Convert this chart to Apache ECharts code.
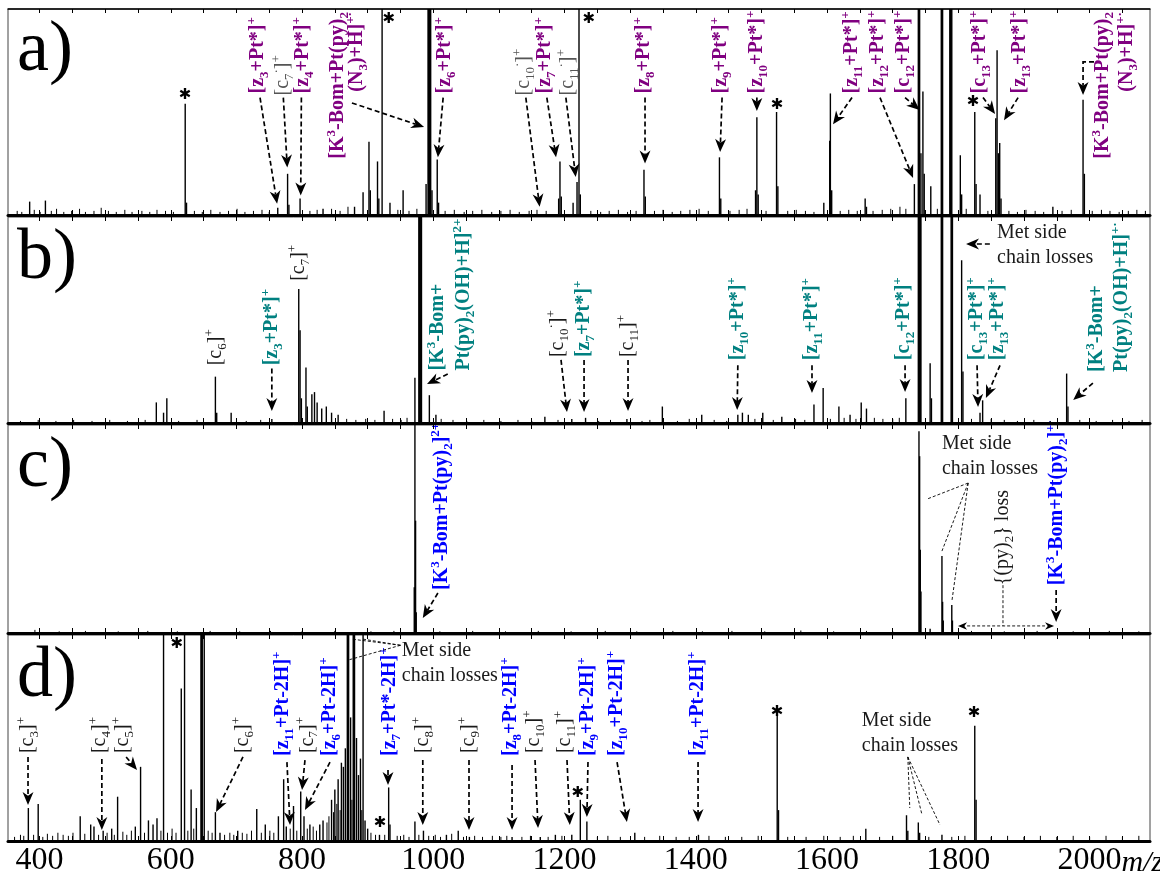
<!DOCTYPE html>
<html>
<head>
<meta charset="utf-8">
<script src="https://cdn.jsdelivr.net/npm/echarts@6/dist/echarts.min.js"></script>
<style>
  html, body { margin: 0; padding: 0; background: #fff; }
  #chart { width: 1160px; height: 877px; }
</style>
</head>
<body>
<div id="chart"></div>
<script>
// ---- axis ----
const mzRange = [352, 2092];
const mzTicks = [400, 450, 500, 550, 600, 650, 700, 750, 800, 850, 900, 950, 1000, 1050, 1100, 1150,
  1200, 1250, 1300, 1350, 1400, 1450, 1500, 1550, 1600, 1650, 1700, 1750, 1800, 1850, 1900, 1950, 2000, 2050];
const mzTickLabels = [400, 600, 800, 1000, 1200, 1400, 1600, 1800, 2000];

// ---- spectra: [m/z, relative intensity %] (values above 100 run off the panel) ----
const peaksA = [[385,6.5],[409,7],[622,54],[624,6],[763,3.5],[778,20],[780,5],[797,8],[832,3],[880,4],[893,11],
  [902,35.5],[904,12],[915,26],[917,8],[922,130],[934,6],[954,12],[989,15],[992,130],[993,130],[994,130],[995,130],
  [996,130],[998,12],[1006,27],[1008,6],[1191,8],[1193,26],[1195,9],[1213,6],[1219,16],[1222,130],[1224,10],
  [1321,22],[1323,9],[1436,28],[1438,8],[1491,12],[1493,47.5],[1495,10],[1523,50],[1525,14],[1595,6],[1604,36],
  [1605,59],[1607,12],[1658,8],[1660,4],[1733,15],[1739,130],[1740,130],[1741,130],[1743,30],[1746,60],[1748,20],
  [1758,14],[1774,130],[1775,130],[1776,130],[1787,130],[1788,130],[1789,130],[1790,130],[1803,29],[1805,10],
  [1825,50],[1827,15],[1833,10],[1857,47],[1859,80],[1861,30],[1863,35],[1865,8],[1944,4],[1990,56],[1992,20]];
const noiseA = [[366,2],[373,1.5],[392,2.5],[401,1.5],[418,2],[426,3],[437,1.5],[449,2],[461,3],[470,1.5],[483,2],
  [494,3.5],[505,2],[517,1.5],[530,2.5],[541,1.5],[556,2],[568,1.5],[579,2.5],[592,2],[604,1.5],[636,2],[648,1.5],
  [661,2.5],[675,1.5],[688,2],[701,3],[713,1.5],[726,2],[739,2.5],[750,1.5],[812,2],[823,2.5],[845,3],[858,2],
  [870,4],[946,2.5],[963,2],[975,3],[1018,2],[1032,2.5],[1047,1.5],[1060,2],[1074,2.5],[1089,1.5],[1103,2],
  [1117,2.5],[1131,1.5],[1146,2],[1158,2.5],[1172,2],[1240,2],[1255,1.5],[1268,2],[1282,2.5],[1296,1.5],[1309,2],
  [1337,2],[1350,2.5],[1364,1.5],[1377,2],[1391,2.5],[1405,3],[1419,2],[1452,2],[1466,2.5],[1478,3],[1507,2],
  [1540,2],[1553,2.5],[1567,2],[1580,1.5],[1620,2],[1633,2.5],[1646,2],[1670,2],[1684,2.5],[1697,3],[1711,4],
  [1720,3],[1768,3],[1812,3],[1845,2],[1877,2],[1890,1.5],[1903,2.5],[1917,2],[1930,1.5],[1958,2],[1972,2.5],
  [2004,2],[2018,2.5],[2031,2],[2045,1.5],[2059,2],[2072,2.5],[2085,2]];

const peaksB = [[578,10],[589,5],[594,12],[668,22.5],[670,5],[692,5],[754,2],[795,65],[797,45],[799,12],[806,27],
  [808,8],[815,14],[819,15],[823,10],[830,7],[837,8],[845,5],[855,4],[925,6],[972,22],[978,130],[979,130],[980,130],
  [981,130],[982,130],[994,13.5],[1004,4],[1170,3],[1211,2],[1232,2.5],[1295,2],[1349,8],[1409,4],[1464,4],[1471,5],
  [1480,4],[1502,5],[1531,3],[1580,9],[1594,17],[1618,8],[1635,4],[1652,10],[1660,7],[1720,12],[1739,130],
  [1740,130],[1741,130],[1742,130],[1743,130],[1757,29],[1759,12],[1774,130],[1775,130],[1776,130],[1789,130],
  [1790,130],[1791,130],[1805,79],[1807,25],[1833,5],[1837,11],[1965,24],[1967,8]];
const noiseB = [[371,1],[398,1.5],[425,1],[452,1.5],[480,1],[507,1.5],[534,1],[561,1.5],[612,1],[640,1.5],[715,1],
  [737,1.5],[868,2],[882,1.5],[897,2],[911,1.5],[938,2],[951,1.5],[960,2.5],[1012,2],[1030,1.5],[1051,1],[1077,1.5],
  [1103,1],[1129,1.5],[1150,1],[1190,1.5],[1252,1],[1270,1.5],[1318,1],[1330,1.5],[1372,1],[1390,2],[1428,1.5],
  [1447,1],[1490,2],[1518,1.5],[1552,2],[1566,1.5],[1605,2],[1626,2.5],[1644,2],[1672,2.5],[1685,2],[1700,2],
  [1710,2.5],[1820,2],[1850,2],[1870,1.5],[1890,1],[1915,1.5],[1940,1],[1985,1.5],[2010,1],[2035,1.5],[2060,1],[2080,1.5]];

const peaksC = [[971,22],[972,130],[973,54],[974,10],[1740,97],[1741,85],[1742,40],[1743,20],[1757,2],[1775,37],
  [1776,15],[1777,6],[1790,13.5],[1791,6]];
const noiseC = [[393,1.5],[430,0.8],[470,1],[520,0.8],[565,1],[610,0.8],[660,1],[705,0.8],[752,1],[800,0.8],
  [850,1],[905,0.8],[940,1],[1010,0.8],[1060,1],[1110,0.8],[1160,1],[1210,0.8],[1262,1],[1310,0.8],[1365,1],
  [1410,0.8],[1455,1],[1505,0.8],[1560,1.2],[1610,0.8],[1660,1],[1700,0.8],[1820,1],[1870,0.8],[1920,1],[1975,0.8],
  [2030,1],[2075,0.8]];

const peaksD = [[383,16],[398,18],[462,12],[478,8],[483,7],[497,5],[510,6],[519,21.5],[546,7],[554,36],[566,10],
  [573,8],[579,11],[589,130],[616,74],[621,130],[631,25],[639,16],[646,130],[647,130],[648,130],[651,130],[668,14],
  [675,4],[702,5],[731,15.5],[744,8],[764,12],[772,30],[776,7],[787,17],[798,24],[803,12],[812,8],[827,8],[832,10],
  [845,20],[850,25],[855,30],[860,38],[863,36],[866,45],[869,130],[870,130],[871,130],[874,60],[878,130],[879,130],
  [880,130],[883,50],[886,32],[889,40],[893,130],[896,10],[900,6],[918,3],[932,26],[934,8],[972,9.5],[985,5],
  [1020,3],[1038,5],[1055,2],[1120,2],[1163,2],[1186,3],[1211,3],[1224,20],[1234,9.5],[1307,4],[1404,3],[1524,61],
  [1526,15],[1659,6],[1721,12.5],[1723,5],[1739,9],[1741,4],[1775,3],[1825,56],[1827,20]];
const noiseD = [[362,2],[371,3],[376,2.5],[391,3],[405,2],[412,3.5],[420,2.5],[428,4],[436,3],[444,2.5],[451,4],
  [469,3.5],[490,3],[503,4],[514,3],[527,4.5],[533,3],[540,5],[560,4],[585,5],[595,4],[602,6],[608,4],[626,5],
  [635,6],[657,5],[663,4],[682,3],[690,4],[696,3],[709,4],[716,3.5],[723,5],[738,4],[751,5],[757,4],[782,6],
  [792,5],[808,6],[817,7],[822,5],[838,9],[841,12],[848,14],[853,18],[858,15],[876,20],[891,15],[905,4],[912,3],
  [926,3],[945,2.5],[955,3],[963,2],[978,3],[993,2.5],[1003,3],[1011,2],[1028,3.5],[1046,2],[1063,2.5],[1075,2],
  [1090,2.5],[1103,2],[1112,2.5],[1135,2],[1148,2.5],[1175,2],[1196,2.5],[1250,2],[1266,2.5],[1285,2],[1322,2],
  [1345,2.5],[1370,2],[1390,2],[1420,2.5],[1445,2],[1470,2],[1495,2.5],[1540,2],[1568,2],[1595,2.5],[1620,2],
  [1640,2.5],[1680,2],[1700,2.5],[1755,2],[1790,2],[1810,2.5],[1850,2],[1875,2.5],[1900,2],[1925,2.5],[1950,2],
  [1975,2.5],[2000,2],[2025,2.5],[2050,2],[2075,2.5]];

// ---- annotations ----
// labels: [markup, m/z of text column, intensity of text start, colour key, anchor ('s' start / 'e' end)]
// markup: _x or _{xx} subscript, ^x or ^{xx} superscript
const labelsA = [
  ['[z_3+Pt*]^+', 733, 59, 'P', 's'], ['[c_7^·]^+', 771, 58, 'G', 's'], ['[z_4+Pt*]^+', 801, 59, 'P', 's'],
  ['[K^3-Bom+Pt(py)_2', 855, 98.5, 'P', 'e'], ['(N_3)+H]^{+·}', 884, 98.5, 'P', 'e'],
  ['[z_6+Pt*]^+', 1018, 59, 'P', 's'], ['[c_{10}^·]^+', 1138, 58, 'G', 's'], ['[z_7+Pt*]^+', 1170, 59, 'P', 's'],
  ['[c_{11}^·]^+', 1205, 58, 'G', 's'], ['[z_8+Pt*]^+', 1321, 59, 'P', 's'], ['[z_9+Pt*]^+', 1438, 59, 'P', 's'],
  ['[z_{10}+Pt*]^+', 1493, 59, 'P', 's'], ['[z_{11}+Pt*]^+', 1638, 59, 'P', 's'], ['[z_{12}+Pt*]^+', 1678, 59, 'P', 's'],
  ['[c_{12}+Pt*]^+', 1717, 59, 'P', 's'], ['[c_{13}+Pt*]^+', 1833, 59, 'P', 's'], ['[z_{13}+Pt*]^+', 1894, 59, 'P', 's'],
  ['[K^3-Bom+Pt(py)_2', 2020, 98.5, 'P', 'e'], ['(N_3)+H]^{+·}', 2057, 98.5, 'P', 'e']
];
const labelsB = [
  ['[c_6]^+', 669, 28, 'K', 's'], ['[z_3+Pt*]^+', 754, 28, 'T', 's'], ['[c_7]^+', 795, 69, 'K', 's'],
  ['[K^3-Bom+', 1007, 25.5, 'T', 's'], ['Pt(py)_2(OH)+H]^{2+}', 1047, 25.5, 'T', 's'],
  ['[c_{10}^·]^+', 1190, 32, 'K', 's'], ['[z_7+Pt*]^+', 1230, 32, 'T', 's'], ['[c_{11}]^+', 1297, 32, 'K', 's'],
  ['[z_{10}+Pt*]^+', 1464, 30.5, 'T', 's'], ['[z_{11}+Pt*]^+', 1577, 30.5, 'T', 's'], ['[c_{12}+Pt*]^+', 1717, 30.5, 'T', 's'],
  ['[c_{13}+Pt*]^+', 1828, 30.5, 'T', 's'], ['[z_{13}+Pt*]^+', 1860, 30.5, 'T', 's'],
  ['[K^3-Bom+', 2011, 24.8, 'T', 's'], ['Pt(py)_2(OH)+H]^{+·}', 2049, 24.8, 'T', 's']
];
const labelsC = [
  ['[K^3-Bom+Pt(py)_2]^{2+}', 1013, 20.7, 'B', 's'], ['{(py)_2} loss', 1868, 23, 'K', 's'],
  ['[K^3-Bom+Pt(py)_2]^{+·}', 1950, 23, 'B', 's']
];
const labelsD = [
  ['[c_3]^+', 382, 42.7, 'K', 's'], ['[c_4]^+', 492, 42.7, 'K', 's'], ['[c_5]^+', 527, 42.7, 'K', 's'],
  ['[c_6]^+', 710, 42.7, 'K', 's'], ['[z_{11}+Pt-2H]^+', 771, 41.3, 'B', 's'], ['[c_7]^+', 808, 42.7, 'K', 's'],
  ['[z_6+Pt-2H]^+', 843, 41.3, 'B', 's'], ['[z_7+Pt*-2H]^+', 934, 41.3, 'B', 's'], ['[c_8]^+', 984, 42.7, 'K', 's'],
  ['[c_9]^+', 1054, 42.7, 'K', 's'], ['[z_8+Pt-2H]^+', 1118, 41.3, 'B', 's'], ['[c_{10}]^+', 1153, 42.7, 'K', 's'],
  ['[c_{11}]^+', 1201, 42.7, 'K', 's'], ['[z_9+Pt-2H]^+', 1236, 41.3, 'B', 's'], ['[z_{10}+Pt-2H]^+', 1280, 41.3, 'B', 's'],
  ['[z_{11}+Pt-2H]^+', 1403, 41.3, 'B', 's']
];

// horizontal notes: [text, m/z of left edge, intensity of first line]
const notesB = [['Met side\nchain losses', 1859, 92.7]];
const notesC = [['Met side\nchain losses', 1775, 91.3]];
const notesD = [['Met side\nchain losses', 952, 92.7], ['Met side\nchain losses', 1653, 58.7]];

// dashed arrows: [points [[m/z, I], ...], heads ('e' end, 'b' both, '' none), thin]
const arrowsA = [
  [[[736,57],[762,5.5]],'e'], [[[771.5,57],[777.5,23]],'e'], [[[799,57],[798,9.5]],'e'],
  [[[876,54.4],[986,42.7]],'e'], [[[1015,57],[1007,28]],'e'], [[[1141,57],[1162,4]],'e'],
  [[[1173,57],[1187,28]],'e'], [[[1202,57],[1217,18.5]],'e'], [[[1322.6,57],[1322.6,25]],'e'],
  [[[1440,57],[1437,30.6]],'e'], [[[1493,57],[1493,50.5]],'e'], [[[1638,57],[1609,44]],'e'],
  [[[1680.6,57],[1731,18]],'e'], [[[1718.8,57],[1741,51]],'e'], [[[1837.6,57],[1856,49]],'e'],
  [[[1891,57],[1869.6,46]],'e'], [[[2006.7,74.3],[1990,74.3],[1990,58.3]],'e']
];
const arrowsB = [
  [[[754,26.5],[754,5.8]],'e'], [[[1022,23.8],[990.4,18.9]],'e'], [[[1194.6,30.6],[1203.7,5.3]],'e'],
  [[[1229.7,30.6],[1229.7,5.3]],'e'], [[[1296.7,30.6],[1296.7,5.8]],'e'], [[[1464,28],[1463,6.3]],'e'],
  [[[1577,28],[1577,14.6]],'e'], [[[1718.8,28],[1718.8,15]],'e'], [[[1828.5,28],[1830,7.8]],'e'],
  [[[1863.5,28],[1842,12.1]],'e'], [[[2005,19.4],[1975,11.2]],'e'], [[[1848,86.9],[1811.7,86.9]],'e']
];
const arrowsC = [
  [[[1007,19.2],[984,7.2]],'e'],
  [[[1815,72.1],[1752.3,64.4]],'',1], [[[1815,72.1],[1775,39.4]],'',1], [[[1815,72.1],[1790.4,15.9]],'',1],
  [[[1868,23],[1868,3.4]],'',1], [[[1799.5,3.4],[1945.8,3.4]],'b',1], [[[1949,20.7],[1949,5.3]],'e']
];
const arrowsD = [
  [[[382.5,40.8],[382.5,17.5]],'e'], [[[495,39.8],[495,5.3]],'e'], [[[532,40.8],[548.6,34.5]],'e'],
  [[[710,40.8],[669,14.1]],'e'], [[[777,38.3],[781.7,7.8]],'e'], [[[804.5,39.3],[800,24.8]],'e'],
  [[[842.6,38.3],[804.5,15]],'e'], [[[931,34.5],[931,27.2]],'e'], [[[984,39.3],[984,7.8]],'e'],
  [[[1054.4,39.3],[1054.4,5.3]],'e'], [[[1120,36.9],[1120,5.3]],'e'], [[[1155,39.3],[1159.6,6.3]],'e'],
  [[[1203.7,39.3],[1208,7.8]],'e'], [[[1235.7,38.3],[1234,11.7]],'e'], [[[1280,38.3],[1295,9.2]],'e'],
  [[[1403.4,38.3],[1403.4,9.2]],'e'],
  [[[950,95],[876,98]],'',1], [[[950,95],[872,88]],'',1], [[[950,95],[893,98]],'',1],
  [[[1723,40.8],[1726,16]],'',1], [[[1723,40.8],[1744.7,12.6]],'',1], [[[1723,40.8],[1772,7.8]],'',1]
];

// asterisks marking peaks: [m/z, intensity]
const starsA = [[621.7,58.3],[932,95],[1237,95],[1523.8,53.4],[1822.5,54.9]];
const starsD = [[609,95.4],[919,8.7],[1220,23.3],[1523.8,62.6],[1824,62.1]];

const panelTags = ['a)', 'b)', 'c)', 'd)'];

// ---- layout ----
const colours = { P: '#800080', T: '#008080', B: '#0000ff', K: '#1a1a1a', G: '#555555' };
const SERIF = '"Liberation Serif", "DejaVu Serif", serif';
const panels = [
  { top: 9, height: 206, peaks: peaksA, noise: noiseA, labels: labelsA, arrows: arrowsA, notes: [], stars: starsA },
  { top: 217, height: 206, peaks: peaksB, noise: noiseB, labels: labelsB, arrows: arrowsB, notes: notesB, stars: [] },
  { top: 425, height: 208, peaks: peaksC, noise: noiseC, labels: labelsC, arrows: arrowsC, notes: notesC, stars: [] },
  { top: 635, height: 206, peaks: peaksD, noise: noiseD, labels: labelsD, arrows: arrowsD, notes: notesD, stars: starsD }
];

const chart = echarts.init(document.getElementById('chart'), null, { renderer: 'canvas' });

const grid = [], xAxis = [], yAxis = [], series = [];
panels.forEach((p, i) => {
  grid.push({ left: 8, right: 10, top: p.top, height: p.height, show: true, borderColor: '#444', borderWidth: 1 });
  xAxis.push({
    type: 'value', gridIndex: i, min: mzRange[0], max: mzRange[1], position: 'bottom',
    axisLine: { show: true, onZero: false, lineStyle: { color: '#000', width: 3 } },
    axisTick: { show: true, inside: true, length: 5, customValues: mzTicks, lineStyle: { color: '#000', width: 1 } },
    axisLabel: {
      show: i === 3, customValues: mzTickLabels, formatter: v => String(v),
      color: '#000', fontFamily: SERIF, fontSize: 32, margin: 4
    },
    splitLine: { show: false }
  });
  xAxis.push({
    type: 'value', gridIndex: i, min: mzRange[0], max: mzRange[1], position: 'top',
    axisLine: { show: i === 0, onZero: false, lineStyle: { color: '#000', width: 1.5 } },
    axisTick: { show: true, inside: true, length: 4, customValues: mzTicks, lineStyle: { color: '#000', width: 1 } },
    axisLabel: { show: false }, splitLine: { show: false }
  });
  yAxis.push({ type: 'value', gridIndex: i, min: 0, max: 100, show: false });
  const stick = (data, w) => ({
    type: 'custom', xAxisIndex: i * 2, yAxisIndex: i, data, clip: true, silent: true, animation: false,
    renderItem(params, api) {
      const a = api.coord([api.value(0), 0]);
      const b = api.coord([api.value(0), api.value(1)]);
      return { type: 'line', shape: { x1: a[0], y1: a[1], x2: b[0], y2: b[1] }, style: { stroke: '#000', lineWidth: w } };
    }
  });
  series.push(stick(p.noise, 1), stick(p.peaks, 1.4));
});

chart.setOption({ animation: false, backgroundColor: '#fff', grid, xAxis, yAxis, series });

// ---- annotation drawing ----
function toRich(markup) {
  let out = '', i = 0;
  while (i < markup.length) {
    const ch = markup[i];
    if (ch === '_' || ch === '^') {
      let s;
      if (markup[i + 1] === '{') { const j = markup.indexOf('}', i + 2); s = markup.slice(i + 2, j); i = j + 1; }
      else { s = markup[i + 1]; i += 2; }
      out += '{' + (ch === '_' ? 'sb' : 'sp') + '|' + s + '}';
    } else { out += ch; i++; }
  }
  return out;
}

function richStyles(fill, weight) {
  return {
    sb: { fill, fontFamily: SERIF, fontWeight: weight, fontSize: 13, verticalAlign: 'bottom', lineHeight: 26 },
    sp: { fill, fontFamily: SERIF, fontWeight: weight, fontSize: 13, verticalAlign: 'top', lineHeight: 26 }
  };
}

const elements = [];
const px = (i, pt) => chart.convertToPixel({ gridIndex: i }, pt);

function arrowHead(tip, from, size) {
  const dx = tip[0] - from[0], dy = tip[1] - from[1];
  const len = Math.hypot(dx, dy) || 1, ux = dx / len, uy = dy / len;
  const L = size, W = size * 0.42, N = size * 0.3;
  const bx = tip[0] - ux * L, by = tip[1] - uy * L;
  return {
    type: 'polygon', silent: true,
    shape: { points: [tip, [bx - uy * W, by + ux * W], [tip[0] - ux * (L - N), tip[1] - uy * (L - N)], [bx + uy * W, by - ux * W]] },
    style: { fill: '#000' }
  };
}

panels.forEach((p, i) => {
  p.labels.forEach(([t, mz, inten, ck, anchor]) => {
    const [x, y] = px(i, [mz, inten]);
    const fill = colours[ck];
    const weight = (ck === 'K' || ck === 'G') ? 'normal' : 'bold';
    elements.push({
      type: 'text', x, y, rotation: Math.PI / 2, silent: true,
      style: {
        text: toRich(t), fill, fontFamily: SERIF, fontWeight: weight, fontSize: 20, lineHeight: 26,
        align: anchor === 's' ? 'left' : 'right', verticalAlign: 'middle', rich: richStyles(fill, weight)
      }
    });
  });
  p.notes.forEach(([t, mz, inten]) => {
    const [x, y] = px(i, [mz, inten]);
    elements.push({
      type: 'text', x, y: y - 12, silent: true,
      style: { text: t, fill: '#1a1a1a', fontFamily: SERIF, fontSize: 20, lineHeight: 25, align: 'left', verticalAlign: 'top' }
    });
  });
  p.arrows.forEach(([pts, heads, thin]) => {
    const P = pts.map(q => px(i, q));
    const size = 13;
    const lw = thin ? 0.9 : 1.7;
    const dash = thin ? [3, 2] : [5, 3];
    const drawn = P.map(q => q.slice());
    const n = P.length;
    const shorten = (a, b) => { // pull point a back toward b by most of the head length
      const dx = a[0] - b[0], dy = a[1] - b[1], l = Math.hypot(dx, dy) || 1;
      return [a[0] - dx / l * size * 0.7, a[1] - dy / l * size * 0.7];
    };
    if (heads === 'e' || heads === 'b') drawn[n - 1] = shorten(P[n - 1], P[n - 2]);
    if (heads === 'b') drawn[0] = shorten(P[0], P[1]);
    elements.push({ type: 'polyline', silent: true, shape: { points: drawn }, style: { stroke: '#000', lineWidth: lw, lineDash: dash, fill: null } });
    if (heads === 'e' || heads === 'b') elements.push(arrowHead(P[n - 1], P[n - 2], thin ? 9 : size));
    if (heads === 'b') elements.push(arrowHead(P[0], P[1], thin ? 9 : size));
  });
  p.stars.forEach(([mz, inten]) => {
    const [x, y] = px(i, [mz, inten]);
    elements.push({
      type: 'text', x, y, silent: true,
      style: { text: '✱', fill: '#000', fontFamily: '"DejaVu Sans", sans-serif', fontSize: 15, align: 'center', verticalAlign: 'middle' }
    });
  });
  elements.push({
    type: 'text', x: 17, y: p.top + 42, silent: true,
    style: { text: panelTags[i], fill: '#000', fontFamily: SERIF, fontSize: 72, align: 'left', verticalAlign: 'middle' }
  });
});

// italic unit after the last tick label
const last = px(3, [mzTickLabels[mzTickLabels.length - 1], 0]);
elements.push({
  type: 'text', x: last[0] + 32, y: last[1] + 22, silent: true,
  style: { text: 'm/z', fill: '#000', fontFamily: SERIF, fontStyle: 'italic', fontSize: 30, align: 'left', verticalAlign: 'middle' }
});

chart.setOption({ graphic: { elements } });
</script>
</body>
</html>
